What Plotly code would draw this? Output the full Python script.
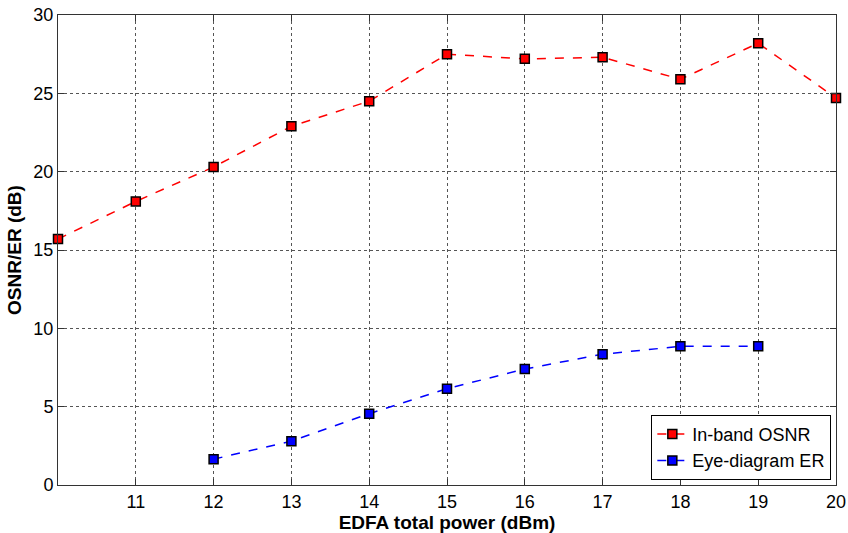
import plotly.graph_objects as go

power_dbm = [10, 11, 12, 13, 14, 15, 16, 17, 18, 19, 20]
osnr_db = [15.7, 18.1, 20.3, 22.9, 24.5, 27.5, 27.2, 27.3, 25.9, 28.2, 24.7]
er_power_dbm = [12, 13, 14, 15, 16, 17, 18, 19]
er_db = [1.65, 2.8, 4.55, 6.15, 7.4, 8.35, 8.85, 8.85]
x_ticks = [11, 12, 13, 14, 15, 16, 17, 18, 19, 20]
y_ticks = [0, 5, 10, 15, 20, 25, 30]

FONT = "Liberation Sans, Arial"

fig = go.Figure()
fig.add_trace(go.Scatter(
    x=power_dbm, y=osnr_db, name="In-band OSNR", mode="lines+markers",
    line=dict(color="#ff0000", width=1.5, dash="dash"),
    marker=dict(symbol="square", size=9, color="#ff0000",
                line=dict(color="black", width=1.5)),
    cliponaxis=False,
))
fig.add_trace(go.Scatter(
    x=er_power_dbm, y=er_db, name="Eye-diagram ER", mode="lines+markers",
    line=dict(color="#0000ff", width=1.5, dash="dash"),
    marker=dict(symbol="square", size=9, color="#0000ff",
                line=dict(color="black", width=1.5)),
    cliponaxis=False,
))

axis_common = dict(
    showgrid=True, gridcolor="#555555", griddash="dot", gridwidth=1,
    showline=True, linecolor="#333333", linewidth=1, mirror="ticks",
    ticks="inside", ticklen=6, tickcolor="#333333",
    zeroline=False, automargin=False,
    tickfont=dict(family=FONT, size=18, color="black"),
)

fig.update_layout(
    width=848, height=533,
    margin=dict(l=58, r=12, t=15, b=48),
    paper_bgcolor="white", plot_bgcolor="white",
    xaxis=dict(range=[10, 20], tickvals=x_ticks,
               title=dict(text="<b>EDFA total power (dBm)</b>", standoff=2,
                          font=dict(family=FONT, size=19, color="black")),
               **axis_common),
    yaxis=dict(range=[0, 30], tickvals=y_ticks,
               title=dict(text="<b>OSNR/ER (dB)</b>", standoff=6,
                          font=dict(family=FONT, size=19, color="black")),
               **axis_common),
    legend=dict(
        x=0.994, y=0.011, xanchor="right", yanchor="bottom",
        bgcolor="white", bordercolor="black", borderwidth=1,
        font=dict(family=FONT, size=18, color="black"),
        tracegroupgap=0, itemwidth=30,
    ),
    showlegend=True,
)

fig.write_html("out.html")
